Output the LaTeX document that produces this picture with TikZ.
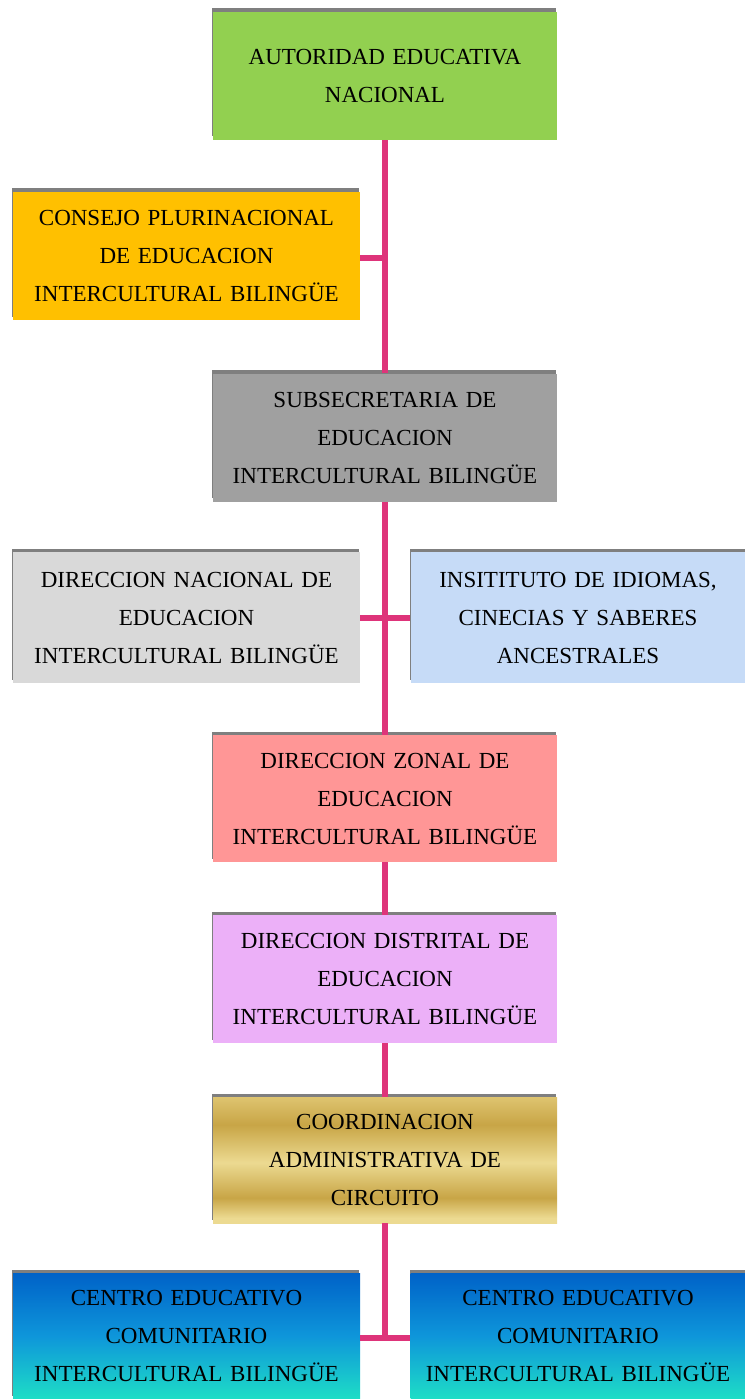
\documentclass[tikz,border=0pt]{standalone}
\usepackage{fontspec}
\setmainfont{Liberation Serif}
\usetikzlibrary{calc}

\definecolor{linkcol}{RGB}{222,52,122}
\definecolor{cgreen}{RGB}{146,208,80}
\definecolor{corange}{RGB}{255,192,0}
\definecolor{cgray}{RGB}{160,160,160}
\definecolor{clight}{RGB}{217,217,217}
\definecolor{cblue}{RGB}{198,219,247}
\definecolor{csalmon}{RGB}{255,150,150}
\definecolor{clilac}{RGB}{236,176,248}
\definecolor{shadowcol}{RGB}{105,105,105}
\definecolor{goldlight}{RGB}{236,218,145}
\definecolor{goldmid}{RGB}{222,196,112}
\definecolor{golddark}{RGB}{200,165,70}
\definecolor{bluetop}{RGB}{0,98,200}
\definecolor{bluemid}{RGB}{14,150,218}
\definecolor{bluebot}{RGB}{30,222,198}

% golden band shading for the circuit box; the box spans 25bp (bottom) to 75bp (top)
\pgfdeclareverticalshading{goldband}{100bp}{
  color(0bp)=(goldlight);
  color(27bp)=(goldlight);
  color(35bp)=(golddark);
  color(49bp)=(goldlight);
  color(64bp)=(golddark);
  color(75bp)=(goldmid);
  color(100bp)=(goldmid)}
% blue to turquoise shading for the community centres
\pgfdeclareverticalshading{bluecyan}{100bp}{
  color(0bp)=(bluebot);
  color(25bp)=(bluebot);
  color(50bp)=(bluemid);
  color(75bp)=(bluetop);
  color(100bp)=(bluetop)}

\tikzset{
  org/.style={rectangle, minimum height=128pt, inner sep=0pt,
    align=center, text width=335pt,
    font=\fontsize{23}{38}\selectfont,
    preaction={fill=shadowcol, opacity=0.85,
      transform canvas={xshift=-1pt, yshift=3.5pt}}},
  wide/.style={minimum width=344pt},
  side/.style={minimum width=347pt},
  sider/.style={minimum width=332pt},
  link/.style={draw=linkcol, line width=5.5pt}
}

\begin{document}
\begin{tikzpicture}[x=1pt, y=-1pt]
\useasboundingbox (0,0) rectangle (744,1399);

\node[org, wide, fill=cgreen] (top) at (385,76)
  {AUTORIDAD EDUCATIVA\\NACIONAL};
\node[org, side, fill=corange] (cons) at (186.5,256)
  {CONSEJO PLURINACIONAL\\DE EDUCACION\\INTERCULTURAL BILINGÜE};
\node[org, wide, fill=cgray] (sub) at (385,437.5)
  {SUBSECRETARIA DE\\EDUCACION\\INTERCULTURAL BILINGÜE};
\node[org, side, fill=clight, minimum height=131pt] (dnac) at (186.5,617.5)
  {DIRECCION NACIONAL DE\\EDUCACION\\INTERCULTURAL BILINGÜE};
\node[org, sider, fill=cblue, minimum height=131pt] (inst) at (578,617.5)
  {INSITITUTO DE IDIOMAS,\\CINECIAS Y SABERES\\ANCESTRALES};
\node[org, wide, fill=csalmon, minimum height=127pt] (zon) at (385,798.5)
  {DIRECCION ZONAL DE\\EDUCACION\\INTERCULTURAL BILINGÜE};
\node[org, wide, fill=clilac] (dist) at (385,979)
  {DIRECCION DISTRITAL DE\\EDUCACION\\INTERCULTURAL BILINGÜE};
\node[org, wide, shading=goldband, minimum height=126pt] (coord) at (385,1160)
  {COORDINACION\\ADMINISTRATIVA DE\\CIRCUITO};
\node[org, side, shading=bluecyan, minimum height=126pt] (cel) at (186.5,1336)
  {CENTRO EDUCATIVO\\COMUNITARIO\\INTERCULTURAL BILINGÜE};
\node[org, sider, shading=bluecyan, minimum height=126pt] (cer) at (578,1336)
  {CENTRO EDUCATIVO\\COMUNITARIO\\INTERCULTURAL BILINGÜE};

% junction points on the trunk line
\coordinate (j1) at (385,258);
\coordinate (j2) at (385,618);
\coordinate (j3) at (385,1338);

\draw[link] (top.south -| j1) -- (sub.north -| j1);
\draw[link] (cons.east |- j1) -- (j1);
\draw[link] (sub.south -| j2) -- (zon.north -| j2);
\draw[link] (dnac.east |- j2) -- (inst.west |- j2);
\draw[link] (zon.south -| j2) -- (dist.north -| j2);
\draw[link] (dist.south -| j2) -- (coord.north -| j2);
\draw[link] (coord.south -| j3) -- (j3);
\draw[link] (cel.east |- j3) -- (cer.west |- j3);
\end{tikzpicture}
\end{document}
